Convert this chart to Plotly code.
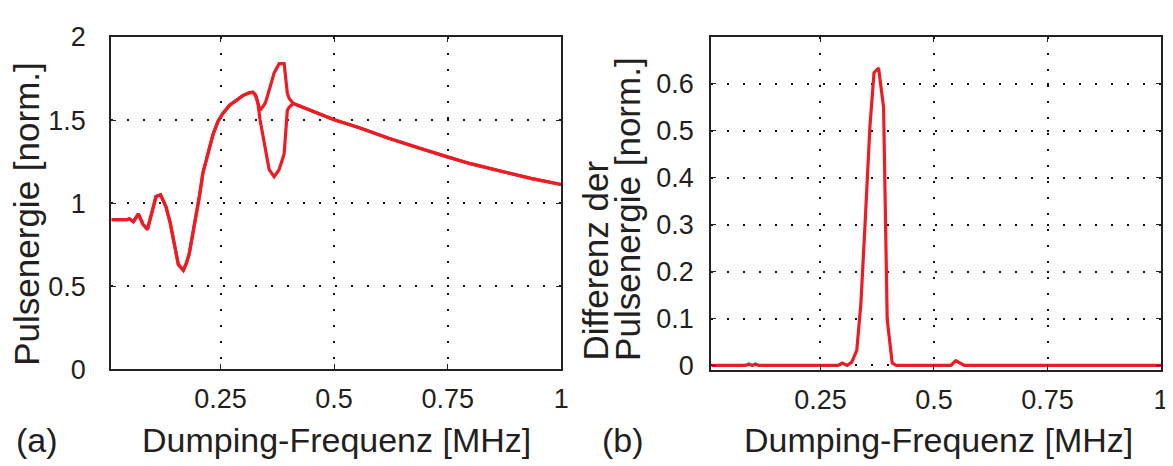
import plotly.graph_objects as go

# ---- data (a): pulse energy vs dumping frequency, two sweep directions ----
freq_a = [0.01, 0.044, 0.049, 0.058, 0.069, 0.079, 0.089, 0.108, 0.118, 0.130,
          0.139, 0.149, 0.157, 0.168, 0.175, 0.181, 0.186, 0.193, 0.204, 0.211,
          0.219, 0.226, 0.233, 0.244, 0.255, 0.270, 0.284, 0.299, 0.313, 0.321,
          0.327, 0.332, 0.337, 0.343, 0.349, 0.357, 0.368, 0.379, 0.390, 0.397,
          0.401, 0.410, 0.500, 0.554, 0.620, 0.685, 0.750, 0.802, 0.875, 0.933,
          1.0]
energy_up = [0.90, 0.90, 0.906, 0.888, 0.935, 0.873, 0.841, 1.04, 1.05, 0.977,
             0.883, 0.73, 0.63, 0.595, 0.64, 0.695, 0.77, 0.883, 1.05, 1.18,
             1.258, 1.33, 1.41, 1.49, 1.54, 1.59, 1.62, 1.647, 1.664, 1.668,
             1.65, 1.606, 1.559, 1.58, 1.606, 1.68, 1.784, 1.84, 1.84, 1.662,
             1.63, 1.60, 1.502, 1.455, 1.39, 1.333, 1.277, 1.236, 1.187, 1.149,
             1.112]
energy_down = [0.90, 0.90, 0.906, 0.888, 0.935, 0.873, 0.841, 1.04, 1.05, 0.977,
               0.883, 0.73, 0.63, 0.595, 0.64, 0.695, 0.77, 0.883, 1.05, 1.18,
               1.258, 1.33, 1.41, 1.49, 1.54, 1.59, 1.62, 1.647, 1.664, 1.668,
               1.65, 1.606, 1.50, 1.408, 1.33, 1.202, 1.159, 1.202, 1.296, 1.559,
               1.577, 1.60, 1.502, 1.455, 1.39, 1.333, 1.277, 1.236, 1.187, 1.149,
               1.112]

# ---- data (b): difference of pulse energy ----
freq_b = [0.01, 0.085, 0.092, 0.10, 0.107, 0.114, 0.289, 0.298, 0.309, 0.319,
          0.330, 0.339, 0.348, 0.359, 0.368, 0.378, 0.389, 0.397, 0.408, 0.417,
          0.537, 0.548, 0.567, 1.0]
diff_b = [0.0, 0.0, 0.003, 0.0, 0.003, 0.0, 0.0, 0.005, 0.0, 0.007,
          0.032, 0.131, 0.297, 0.51, 0.624, 0.634, 0.55, 0.098, 0.005, 0.0,
          0.0, 0.01, 0.0, 0.0]

x_ticks = [0.25, 0.5, 0.75, 1]
x_ticklabels = ["0.25", "0.5", "0.75", "1"]
ya_ticks = [0, 0.5, 1, 1.5, 2]
ya_ticklabels = ["0", "0.5", "1", "1.5", "2"]
yb_ticks = [0, 0.1, 0.2, 0.3, 0.4, 0.5, 0.6]
yb_ticklabels = ["0", "0.1", "0.2", "0.3", "0.4", "0.5", "0.6"]

W, H = 1173, 466
RED = "#ed1c24"
FONT = "Liberation Sans, Arial, sans-serif"
TXT = "#231f20"

def px(x):
    return x / W

def py(y):
    return 1 - y / H

fig = go.Figure()
for e in (energy_up, energy_down):
    fig.add_trace(go.Scatter(x=freq_a, y=e, mode="lines",
                             line=dict(color=RED, width=3.2), xaxis="x", yaxis="y",
                             showlegend=False))
fig.add_trace(go.Scatter(x=freq_b, y=diff_b, mode="lines",
                         line=dict(color=RED, width=3.2), xaxis="x2", yaxis="y2",
                         showlegend=False))

grid = dict(showgrid=True, gridcolor="#111", gridwidth=1.8, griddash="1.6px,14.4px",
            zeroline=False, showline=True, linecolor="#222", linewidth=2,
            mirror="ticks", ticks="inside", ticklen=5, tickcolor="#222",
            tickfont=dict(family=FONT, size=27, color=TXT))

fig.update_layout(
    width=W, height=H,
    margin=dict(l=0, r=0, t=0, b=0),
    paper_bgcolor="white", plot_bgcolor="white",
    xaxis=dict(domain=[px(104), px(557)], range=[0.0094, 1.0], anchor="y",
               tickvals=x_ticks, ticktext=x_ticklabels, ticklabelstandoff=4, **grid),
    yaxis=dict(domain=[py(370), py(15)], range=[0, 2], anchor="x",
               tickvals=ya_ticks, ticktext=ya_ticklabels, ticklabelstandoff=18, **grid),
    xaxis2=dict(domain=[px(708), px(1161)], range=[0.0094, 1.0], anchor="y2",
                tickvals=x_ticks, ticktext=x_ticklabels, ticklabelstandoff=4, **grid),
    yaxis2=dict(domain=[py(371), py(15)], range=[-0.01, 0.7], anchor="x2",
                tickvals=yb_ticks, ticktext=yb_ticklabels, ticklabelstandoff=10, **grid),
)

ann = []
for xc in (331, 937):
    ann.append(dict(text="Dumping-Frequenz [MHz]", x=px(xc), y=py(446),
                    xref="paper", yref="paper", xanchor="center", yanchor="middle",
                    showarrow=False, font=dict(family=FONT, size=34, color=TXT)))
ann.append(dict(text="(a)", x=px(29), y=py(446), xref="paper", yref="paper",
                xanchor="center", yanchor="middle", showarrow=False,
                font=dict(family=FONT, size=34, color=TXT)))
ann.append(dict(text="(b)", x=px(619), y=py(446), xref="paper", yref="paper",
                xanchor="center", yanchor="middle", showarrow=False,
                font=dict(family=FONT, size=34, color=TXT)))
ann.append(dict(text="Pulsenergie [norm.]", x=px(19), y=py(204), xref="paper",
                yref="paper", xanchor="center", yanchor="middle", textangle=-90,
                showarrow=False, font=dict(family=FONT, size=35, color=TXT)))
ann.append(dict(text="Differenz der", x=px(592), y=py(363), xref="paper",
                yref="paper", xanchor="center", yanchor="bottom", textangle=-90,
                showarrow=False, font=dict(family=FONT, size=35, color=TXT)))
ann.append(dict(text="Pulsenergie [norm.]", x=px(623), y=py(363), xref="paper",
                yref="paper", xanchor="center", yanchor="bottom", textangle=-90,
                showarrow=False, font=dict(family=FONT, size=35, color=TXT)))
fig.update_layout(annotations=ann)

fig.write_html("out.html")
